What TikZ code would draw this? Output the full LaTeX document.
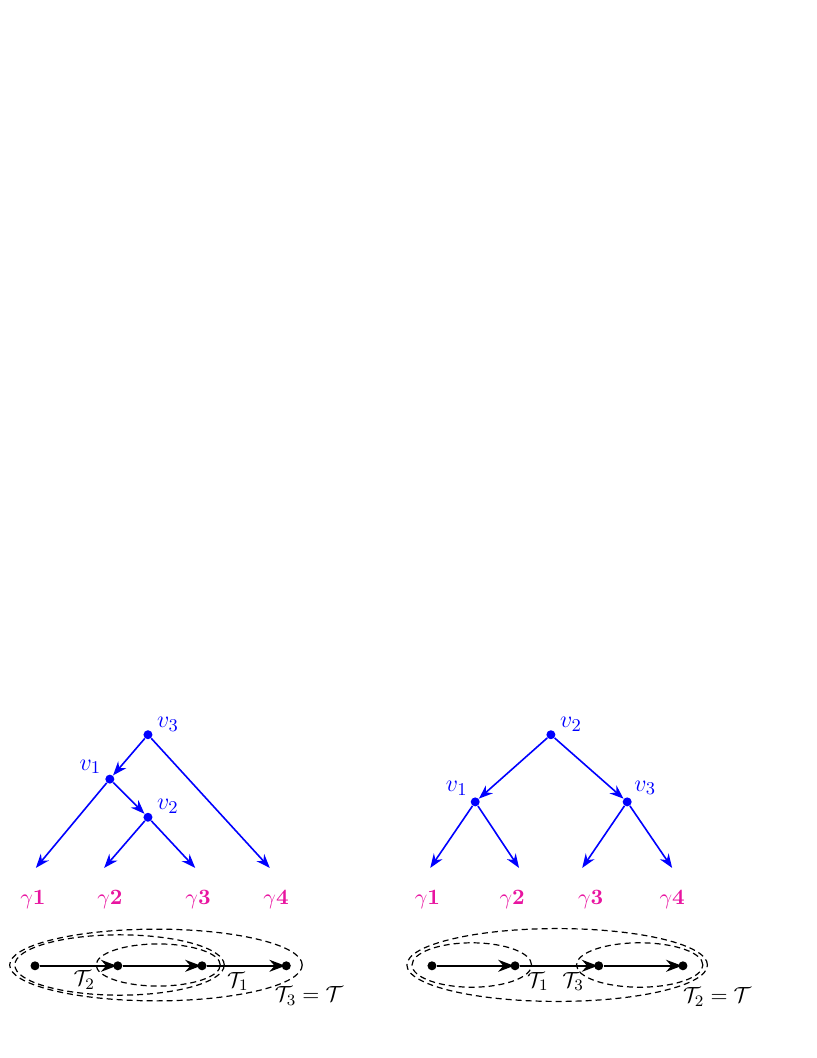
\documentclass[tikz,border=0pt]{standalone}
\usepackage{amsmath}
\usepackage{amssymb}
\usepackage{tikz}
\usetikzlibrary{arrows.meta}

\definecolor{leafpink}{RGB}{232,20,160}

\tikzset{
	vert/.style={circle, fill=blue, inner sep=0pt, minimum size=4.5pt},
	pt/.style={circle, fill=black, inner sep=0pt, minimum size=4.5pt},
	vlbl/.style={blue, font=\fontsize{13}{15}\selectfont, inner sep=1pt, label distance=1pt},
	tedge/.style={blue, thick, -{Stealth[length=7pt]}},
	pedge/.style={black, thick, -{Stealth[length=8pt, width=6pt]}, shorten >=-2pt},
	glbl/.style={leafpink, font=\fontsize{11}{13}\selectfont},
	tlbl/.style={font=\fontsize{11}{13}\selectfont},
	tree/.style={semithick, dash pattern=on 3pt off 2pt}
}

\begin{document}
\begin{tikzpicture}
\useasboundingbox (0,0) rectangle (14.355,18.59);

% left tree
\node [vert, label={[vlbl]8:$v_3$}] (lv3) at (2.60,5.68) {};
\node [vert, label={[vlbl]155:$v_1$}] (lv1) at (1.93,4.90) {};
\node [vert, label={[vlbl]12:$v_2$}] (lv2) at (2.60,4.23) {};
\coordinate (le1) at (0.63,3.34);
\coordinate (le2) at (1.83,3.34);
\coordinate (le3) at (3.43,3.34);
\coordinate (le4) at (4.74,3.34);
\draw [tedge] (lv3) -- (lv1);
\draw [tedge] (lv3) -- (le4);
\draw [tedge] (lv1) -- (le1);
\draw [tedge] (lv1) -- (lv2);
\draw [tedge] (lv2) -- (le2);
\draw [tedge] (lv2) -- (le3);
	\node [glbl] (lg1) at (0.58,2.79) {$\gamma\mathbf{1}$};
	\node [glbl] (lg2) at (1.93,2.79) {$\gamma\mathbf{2}$};
	\node [glbl] (lg3) at (3.48,2.79) {$\gamma\mathbf{3}$};
	\node [glbl] (lg4) at (4.85,2.79) {$\gamma\mathbf{4}$};

\node [pt] (lp1) at (0.615,1.62) {};
\node [pt] (lp2) at (2.07,1.62) {};
\node [pt] (lp3) at (3.55,1.62) {};
\node [pt] (lp4) at (5.03,1.62) {};
\draw [pedge] (lp1) -- (lp2);
\draw [pedge] (lp2) -- (lp3);
\draw [pedge] (lp3) -- (lp4);
\draw [tree] (2.74,1.634) ellipse [x radius=2.57, y radius=0.63];
\draw [tree] (2.10,1.634) ellipse [x radius=1.84, y radius=0.53];
\draw [tree] (2.78,1.634) ellipse [x radius=1.09, y radius=0.37];
	\node [tlbl] (lt2) at (1.48,1.37) {$\mathcal{T}_2$};
	\node [tlbl] (lt1) at (4.18,1.35) {$\mathcal{T}_1$};
	\node [tlbl] (lt3) at (5.43,1.09) {$\mathcal{T}_3=\mathcal{T}$};

% right tree
\node [vert, label={[vlbl]8:$v_2$}] (rv2) at (9.68,5.68) {};
\node [vert, label={[vlbl]140:$v_1$}] (rv1) at (8.35,4.50) {};
\node [vert, label={[vlbl]45:$v_3$}] (rv3) at (11.02,4.50) {};
\coordinate (re1) at (7.56,3.34);
\coordinate (re2) at (9.12,3.34);
\coordinate (re3) at (10.23,3.34);
\coordinate (re4) at (11.81,3.34);
\draw [tedge] (rv2) -- (rv1);
\draw [tedge] (rv2) -- (rv3);
\draw [tedge] (rv1) -- (re1);
\draw [tedge] (rv1) -- (re2);
\draw [tedge] (rv3) -- (re3);
\draw [tedge] (rv3) -- (re4);
	\node [glbl] (rg1) at (7.51,2.79) {$\gamma\mathbf{1}$};
	\node [glbl] (rg2) at (9.00,2.79) {$\gamma\mathbf{2}$};
	\node [glbl] (rg3) at (10.38,2.79) {$\gamma\mathbf{3}$};
	\node [glbl] (rg4) at (11.81,2.79) {$\gamma\mathbf{4}$};

\node [pt] (rp1) at (7.59,1.62) {};
\node [pt] (rp2) at (9.05,1.62) {};
\node [pt] (rp3) at (10.52,1.62) {};
\node [pt] (rp4) at (12.00,1.62) {};
\draw [pedge] (rp1) -- (rp2);
\draw [pedge] (rp2) -- (rp3);
\draw [pedge] (rp3) -- (rp4);
\draw [tree] (9.79,1.634) ellipse [x radius=2.64, y radius=0.64];
\draw [tree] (8.29,1.634) ellipse [x radius=1.05, y radius=0.39];
\draw [tree] (11.24,1.634) ellipse [x radius=1.11, y radius=0.39];
	\node [tlbl] (rt1) at (9.45,1.34) {$\mathcal{T}_1$};
	\node [tlbl] (rt3) at (10.07,1.34) {$\mathcal{T}_3$};
	\node [tlbl] (rt2) at (12.60,1.07) {$\mathcal{T}_2=\mathcal{T}$};

\end{tikzpicture}
\end{document}
